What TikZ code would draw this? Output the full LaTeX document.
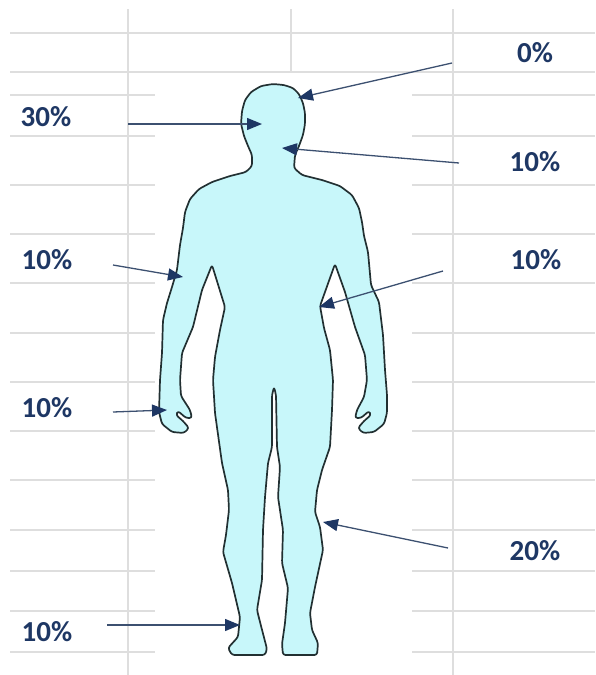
\documentclass[tikz,border=0pt]{standalone}
\usepackage{fontspec}
\setmainfont{Carlito}
\usetikzlibrary{arrows.meta}
\definecolor{gridgray}{RGB}{222,222,222}
\definecolor{navy}{RGB}{30,55,100}
\definecolor{shaft}{RGB}{60,80,112}
\definecolor{skin}{RGB}{200,247,250}
\definecolor{edge}{RGB}{34,48,50}
\begin{document}
\begin{tikzpicture}[x=1pt,y=-1pt,
  gridline/.style={gridgray,line width=1.3pt},
  pct/.style={font=\fontsize{29}{34}\selectfont\bfseries,text=navy,inner sep=0pt},
  pointer/.style={shaft,line width=1.3pt,-{Triangle[length=15pt,width=12pt,color=navy]}},
  figure/.style={fill=skin,draw=edge,line width=1.7pt,line join=round,rounded corners=2.5pt}]
\useasboundingbox (0,0) rectangle (595,675);

% sheet grid
\draw[gridline] (10,33) -- (595,33);
\draw[gridline] (10,72) -- (595,72);
\draw[gridline] (128,9) -- (128,675);
\draw[gridline] (291,9) -- (291,72);
\draw[gridline] (453,9) -- (453,675);
\foreach \y in {95,136,185,234,283,333,382,431,480,530,571,611,652}{
  \draw[gridline] (10,\y) -- (155,\y);
  \draw[gridline] (412,\y) -- (595,\y);
}

% human silhouette
\draw[figure] (273,84) -- (284,85) -- (293,88) -- (299,94) -- (303,103) -- (305,113)
  -- (305,124) -- (303,135) -- (299,146) -- (295,155) -- (294,168) -- (302,175)
  -- (322,180) -- (340,186) -- (352,195) -- (359,208) -- (362,222) -- (364,236)
  -- (368,252) -- (371,285) -- (379,302) -- (383,335) -- (385,370) -- (387,395)
  -- (387,413) -- (384,424) -- (374,432) -- (363,433) -- (358,428) -- (364,421)
  -- (371,415) -- (369,411) -- (361,418) -- (355,418) -- (357,410) -- (364,397)
  -- (367,380) -- (365,355) -- (355,327) -- (345,292) -- (335,264) -- (320,306)
  -- (324,328) -- (330,350) -- (333,380) -- (332,410) -- (330,447) -- (322,470)
  -- (317,490) -- (315,512) -- (320,527) -- (323,550) -- (315,587) -- (310,613)
  -- (312,630) -- (318,643) -- (317,655) -- (283,655) -- (282,644) -- (285,623)
  -- (288,588) -- (282,563) -- (283,530) -- (278,497) -- (280,467) -- (277,447)
  -- (276,395) -- (274,387) -- (272,395) -- (272,447) -- (268,463) -- (265,497)
  -- (263,530) -- (262,580) -- (257,610) -- (260,622) -- (267,649) -- (265,655)
  -- (232,655) -- (228,648) -- (238,637) -- (240,617) -- (232,583) -- (223,552)
  -- (226,535) -- (229,510) -- (228,490) -- (222,463) -- (215,413) -- (213,380)
  -- (215,357) -- (220,330) -- (225,307) -- (212,265) -- (202,290) -- (193,327)
  -- (182,353) -- (180,380) -- (181,396) -- (190,410) -- (192,418) -- (186,418)
  -- (178,411) -- (176,415) -- (183,421) -- (189,428) -- (184,433) -- (172,432)
  -- (162,424) -- (159,412) -- (160,380) -- (162,353) -- (163,320) -- (167,303)
  -- (172,287) -- (177,270) -- (180,245) -- (183,228) -- (185,212) -- (190,199)
  -- (199,189) -- (212,182) -- (230,176) -- (246,172) -- (252,166) -- (252,155)
  -- (248,146) -- (244,136) -- (241,124) -- (242,111) -- (245,100) -- (251,92)
  -- (261,86) -- cycle;

% pointer ends
\coordinate (crownS) at (452,63);   \coordinate (crownT) at (298,98);
\coordinate (headS)  at (128,124);  \coordinate (headT)  at (262,124);
\coordinate (neckS)  at (459,163);  \coordinate (neckT)  at (282,148);
\coordinate (armS)   at (113,265);  \coordinate (armT)   at (183,277);
\coordinate (waistS) at (443,271);  \coordinate (waistT) at (319,307);
\coordinate (handS)  at (113,412);  \coordinate (handT)  at (167,410);
\coordinate (calfS)  at (448,548);  \coordinate (calfT)  at (323,522);
\coordinate (footS)  at (107,625);  \coordinate (footT)  at (240,625);

\draw[pointer] (crownS) -- (crownT);
\draw[pointer] (headS) -- (headT);
\draw[pointer] (neckS) -- (neckT);
\draw[pointer] (armS) -- (armT);
\draw[pointer] (waistS) -- (waistT);
\draw[pointer] (handS) -- (handT);
\draw[pointer] (calfS) -- (calfT);
\draw[pointer] (footS) -- (footT);

% percentages
\node[pct] (pCrown) at (535,53)  {0\%};
\node[pct] (pHead)  at (46,117)  {30\%};
\node[pct] (pNeck)  at (535,162) {10\%};
\node[pct] (pArm)   at (47,260)  {10\%};
\node[pct] (pWaist) at (536,260) {10\%};
\node[pct] (pHand)  at (47,408)  {10\%};
\node[pct] (pCalf)  at (535,551) {20\%};
\node[pct] (pFoot)  at (47,632)  {10\%};
\end{tikzpicture}
\end{document}
